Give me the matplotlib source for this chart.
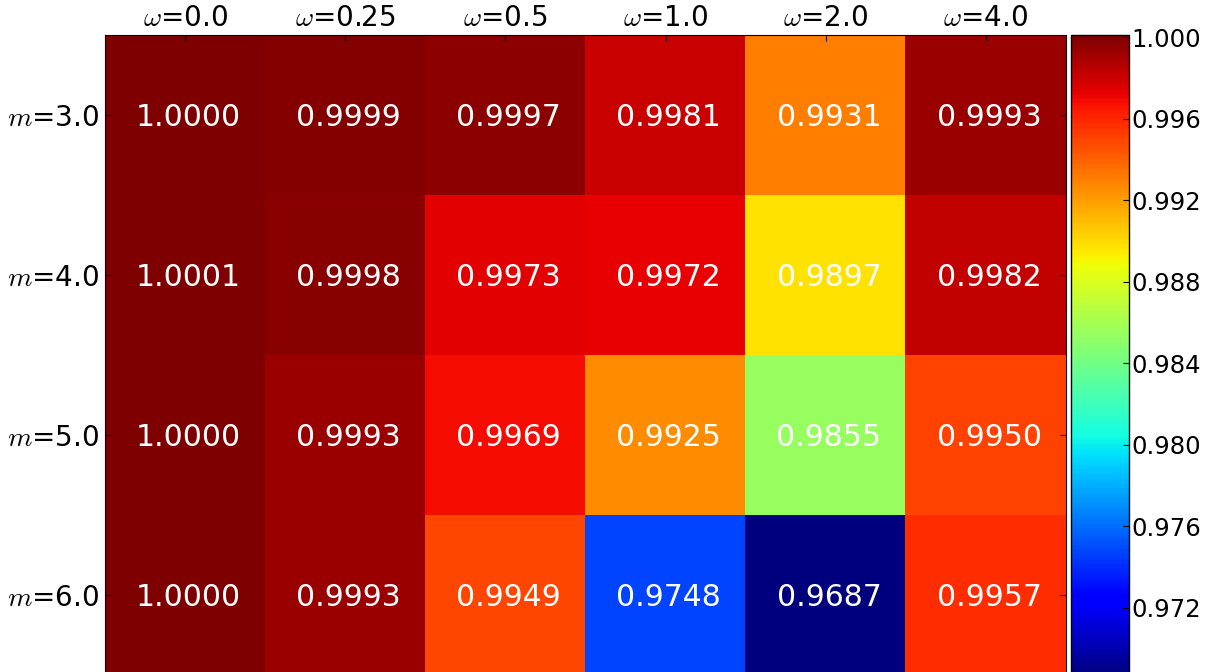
import matplotlib
matplotlib.use("Agg")
import matplotlib.pyplot as plt
import numpy as np

omegas = ["0.0", "0.25", "0.5", "1.0", "2.0", "4.0"]
ms = ["3.0", "4.0", "5.0", "6.0"]
row_m3 = [1.0000, 0.9999, 0.9997, 0.9981, 0.9931, 0.9993]
row_m4 = [1.0001, 0.9998, 0.9973, 0.9972, 0.9897, 0.9982]
row_m5 = [1.0000, 0.9993, 0.9969, 0.9925, 0.9855, 0.9950]
row_m6 = [1.0000, 0.9993, 0.9949, 0.9748, 0.9687, 0.9957]
cbar_ticks = [0.972, 0.976, 0.980, 0.984, 0.988, 0.992, 0.996, 1.000]

plt.rcParams['mathtext.fontset'] = 'cm'
plt.rcParams['font.family'] = 'DejaVu Sans'

data = np.array([row_m3, row_m4, row_m5, row_m6])

fig = plt.figure(figsize=(12.15, 6.72), dpi=100)
ax = fig.add_axes([105/1215, -3/672, 961/1215, 640/672])
cax = fig.add_axes([1071/1215, -3/672, 58/1215, 640/672])

im = ax.imshow(data, cmap='jet', aspect='auto', interpolation='nearest',
               vmin=data.min(), vmax=data.max())

for i in range(data.shape[0]):
    for j in range(data.shape[1]):
        ax.annotate(f"{data[i, j]:.4f}", xy=(j, i), xytext=(2.3, 0),
                    textcoords='offset points', ha='center', va='center_baseline',
                    color='white', fontsize=21.5)

ax.set_xticks(range(len(omegas)))
ax.set_xticklabels([r"$\omega$=" + o for o in omegas], fontsize=20)
ax.set_yticks(range(len(ms)))
ax.set_yticklabels([r"$m$=" + m for m in ms], fontsize=20)
ax.tick_params(axis='x', which='both', top=True, bottom=False, labeltop=True,
               labelbottom=False, direction='in', length=4, pad=2)
ax.tick_params(axis='y', which='both', left=True, right=True, direction='in',
               length=4, pad=4)

cb = fig.colorbar(im, cax=cax, ticks=cbar_ticks)
cb.ax.set_yticklabels([f"{t:.3f}" for t in cbar_ticks])
cb.ax.tick_params(labelsize=17.5, direction='in', length=4, pad=2)
cb.outline.set_linewidth(1.0)

fig.savefig("out.png", dpi=100)
